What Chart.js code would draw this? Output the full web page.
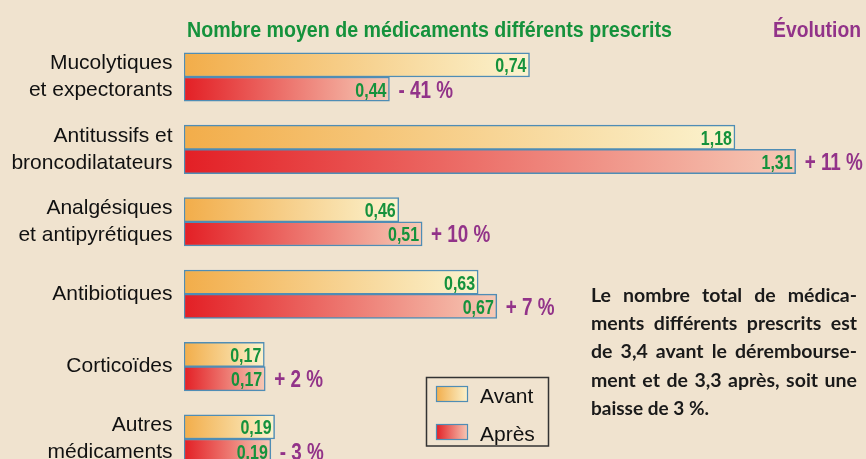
<!DOCTYPE html>
<html>
<head>
<meta charset="utf-8">
<script src="https://cdn.jsdelivr.net/npm/chart.js@4.4.0/dist/chart.umd.min.js"></script>
<style>
	html, body { margin: 0; padding: 0; overflow: hidden; background: #f0e3cf; }
	#wrap { width: 866px; height: 459px; overflow: hidden; }
	canvas { display: block; }
</style>
</head>
<body>
<div id="wrap"><canvas id="myChartbars" width="866" height="476"></canvas></div>
<script>
const categories = [
	['Mucolytiques', 'et expectorants'],
	['Antitussifs et', 'broncodilatateurs'],
	['Analgésiques', 'et antipyrétiques'],
	'Antibiotiques',
	'Corticoïdes',
	['Autres', 'médicaments']
];
const avant = [0.74, 1.18, 0.46, 0.63, 0.172, 0.194];
const apres = [0.44, 1.31, 0.51, 0.67, 0.174, 0.186];
const evolution = [-41, 11, 10, 7, 2, -3];
const seriesNames = ['Avant', 'Après'];

const titleText = 'Nombre moyen de médicaments différents prescrits';
const evolTitle = 'Évolution';
const noteLines = [
	'Le nombre total de médica-',
	'ments différents prescrits est',
	'de 3,4 avant le dérembourse-',
	'ment et de 3,3 après, soit une',
	'baisse de 3 %.'
];

const GREEN = '#15923c';
const PURPLE = '#923389';
const AVANT_STOPS = ['#f2ad4a', '#fbf3cf'];
const APRES_STOPS = ['#e31f25', '#f6cab6'];
const SANS = "'Liberation Sans', Arial, sans-serif";

function fmt(v) {
	return v.toFixed(2).replace('.', ',');
}

function fmtEvol(v) {
	return (v < 0 ? '- ' : '+ ') + Math.abs(v) + ' %';
}

function gradient(ctx2d, x0, x1, stops) {
	const g = ctx2d.createLinearGradient(x0, 0, x1, 0);
	g.addColorStop(0, stops[0]);
	g.addColorStop(1, stops[1]);
	return g;
}

function barFill(stops) {
	return function (context) {
		const chart = context.chart;
		if (!chart.chartArea || context.type !== 'data') return stops[0];
		const x = chart.scales.x;
		return gradient(chart.ctx, x.getPixelForValue(0), x.getPixelForValue(context.raw), stops);
	};
}

// condensed bold text, squeezed horizontally
function narrowText(ctx, text, x, y, size, color, squeeze) {
	ctx.font = 'bold ' + size + 'px ' + SANS;
	ctx.fillStyle = color;
	ctx.fillText(text, x, y, ctx.measureText(text).width * (squeeze || 0.8));
}

const extras = {
	id: 'extras',
	afterDatasetsDraw(chart) {
		const ctx = chart.ctx;
		ctx.save();
		ctx.textBaseline = 'alphabetic';

		// value labels inside the bar ends
		chart.data.datasets.forEach((ds, di) => {
			chart.getDatasetMeta(di).data.forEach((bar, i) => {
				ctx.textAlign = 'right';
				narrowText(ctx, fmt(ds.data[i]), bar.x - 3, bar.y + 7.5, 20, GREEN);
			});
		});

		// evolution next to the "après" bars
		chart.getDatasetMeta(1).data.forEach((bar, i) => {
			ctx.textAlign = 'left';
			narrowText(ctx, fmtEvol(evolution[i]), bar.x + 9, bar.y + 8.5, 23, PURPLE, 0.82);
		});

		// titles
		ctx.textAlign = 'center';
		ctx.font = 'bold 22px ' + SANS;
		ctx.fillStyle = GREEN;
		ctx.fillText(titleText, 429.5, 36.5, 485);
		ctx.textAlign = 'left';
		ctx.fillStyle = PURPLE;
		ctx.fillText(evolTitle, 773, 36.5, 88);

		// legend box
		ctx.strokeStyle = '#333';
		ctx.lineWidth = 1.5;
		ctx.strokeRect(426.5, 377.5, 122, 68.5);
		const stops = [AVANT_STOPS, APRES_STOPS];
		const tops = [386, 424];
		ctx.font = '21px ' + SANS;
		seriesNames.forEach((name, k) => {
			ctx.fillStyle = gradient(ctx, 436, 468, stops[k]);
			ctx.fillRect(436, tops[k], 32, 16);
			ctx.strokeStyle = '#4f8db5';
			ctx.lineWidth = 1.2;
			ctx.strokeRect(436.5, tops[k] + 0.5, 31, 15);
			ctx.fillStyle = '#111';
			ctx.fillText(name, 480, tops[k] + 16.5);
		});

		// justified note
		ctx.font = "bold 19.5px Lato, 'Open Sans', sans-serif";
		ctx.fillStyle = '#1a1a1a';
		const left = 591, right = 857;
		noteLines.forEach((line, k) => {
			const y = 301.5 + k * 28.4;
			const words = line.split(' ');
			if (k === noteLines.length - 1) {
				ctx.fillText(line, left, y, 118);
				return;
			}
			const total = words.reduce((s, w) => s + ctx.measureText(w).width, 0);
			const gap = (right - left - total) / (words.length - 1);
			let x = left;
			words.forEach(w => {
				ctx.fillText(w, x, y);
				x += ctx.measureText(w).width + gap;
			});
		});
		ctx.restore();
	}
};

const myChart = new Chart('myChartbars', {
	type: 'bar',
	data: {
		labels: categories,
		datasets: [{
			label: seriesNames[0],
			data: avant,
			backgroundColor: barFill(AVANT_STOPS),
			borderColor: '#4f8db5',
			borderWidth: 1.5,
			borderSkipped: false,
			barThickness: 24.2
		}, {
			label: seriesNames[1],
			data: apres,
			backgroundColor: barFill(APRES_STOPS),
			borderColor: '#4f8db5',
			borderWidth: 1.5,
			borderSkipped: false,
			barThickness: 24.2
		}]
	},
	options: {
		indexAxis: 'y',
		responsive: false,
		animation: false,
		layout: {
			padding: { top: 40.8, bottom: 0.8, left: 0, right: 5 }
		},
		plugins: {
			legend: { display: false },
			tooltip: { enabled: false }
		},
		scales: {
			x: {
				display: false,
				min: 0,
				max: 1.45
			},
			y: {
				grid: { display: false, drawTicks: false },
				border: { display: false },
				ticks: {
					color: '#111',
					padding: 11.5,
					font: { family: SANS, size: 21, lineHeight: 1.28 }
				},
				afterFit(scale) {
					scale.width = 184;
					scale.paddingTop = 0;
					scale.paddingBottom = 0;
				}
			}
		}
	},
	plugins: [extras]
});
</script>
</body>
</html>
